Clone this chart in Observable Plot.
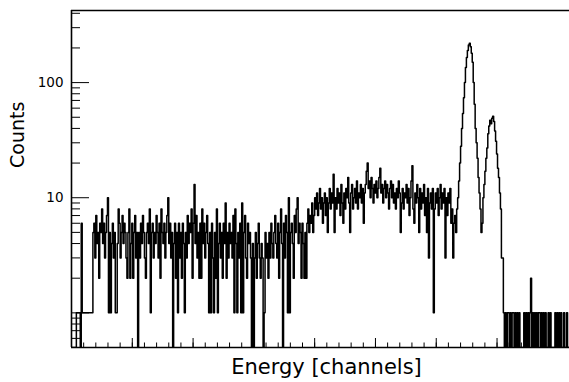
<!DOCTYPE html>
<html>
<head>
<meta charset="utf-8">
<script src="https://cdn.jsdelivr.net/npm/d3@7"></script>
<script src="https://cdn.jsdelivr.net/npm/@observablehq/plot@0.6"></script>
<style>
  html, body { margin: 0; padding: 0; background: #fff; }
  #chart svg { display: block; }
</style>
</head>
<body>
<div id="chart"></div>
<script>
// Histogram counts per bin (512 bins over 4096 channels)
const counts = [
  // start
  0,0,0,0,0,1,1,1,1,0,6,1,1,1,1,1,1,1,1,1,1,1,
  // flat low region
  5,6,3,7,4,5,2,6,5,8, 4,6,3,5,7,10,1,5,1,4, 6,3,5,1,1,4,8,6,3,5, 7,4,6,5,3,2,5,8,2,4, 6,2,5,7,3,5, 0,
  5,3,6,4,7,5,3,2,5,6, 4,8,1,5,6,3,5,4,7,5, 3,6,2,8,5,4,6,3,5,7, 10,4,6,3,5, 0,
  4,6,2,5,1,6,3,5,2,6, 4,1,5,3,7,4,6,5,8,2, 6,13,4,7,3,5,2,6,2,8, 4,6,3,5,7,4,
  1,5,1,6,3,1,5,2,8,1, 4,6,3,5,2,6,4,9,2,5, 3,6,4,5,3,7,1,8,4,1, 5,3,6,1,9,1,5,7,3,2, 6,4,5,3,0,4,0,
  3,5,2,4,6,3,2,4,3,0, 1,5,3,4,2,5,3,6,4,3, 5,7,4,3,6,2,5,8,4,0, 6,3,7,5,1,10,1,5,6,4, 2,7,5,8,10,4,6,5,2,6, 4,2,5,
  // rise
  2,6,8,5,7,6,9,5,7,10,
  // plateau
  8,11,7,9,12,8,10,6,9,11, 7,10,5,9,12,8,11,9,16,5, 10,8,12,9,11,7,13,9,6,11, 8,12,10,15,9,5,11,13,8,10, 12,9,14,8,11,10,13,9,12,6,
  11,13,17,20,12,14,10,15,12,9, 13,11,14,10,12,15,18,11,13,9, 12,14,10,13,11,8,12,14,10,13, 9,11,8,12,10,14,11,5,9,12,
  8,11,10,13,9,12,7,10,14,19, 8,6,11,9,13,10,5,12,8,11, 9,13,7,10,5,12,3,9,11,8, 12,1,
  8,11,9,12,7,10,13,8,11,9, 12,3,10,7,11,9,12,6,8,3, 6,7,5,8,10,
  // first peak
  14,20,28,40,54,74,100,135,165,190,212,220,205,180,150,100,65,40,30,22,15,11,8,5,6,
  // second peak
  10,13,17,22,27,36,42,47,44,49,51,46,38,31,24,18,15,11,8,3,3,1,
  // tail
  0,1,0,1,1,0,1,0,1,1, 0,1,0,1,0,1,0,0,0,0, 1,0,1,0,1,0,1,2,0,1, 0,1,0,1,0,1,1,0,1,0,
  1,0,1,0,0,1,0,1,0,0, 0,0,1,0,1,0,1,0,1,0, 0,1,0,0,1,0,0
];

const xDomain = [0, 4096];
const yDomain = [0.5, 423];
const xMajor = [0, 500, 1000, 1500, 2000, 2500, 3000, 3500, 4000];
const xMinor = d3.range(0, 4097, 100);
const yMajor = [1, 10, 100];
const yLabels = [10, 100];
const yMinor = [0.5, 0.6, 0.7, 0.8, 0.9, 2, 3, 4, 5, 6, 7, 8, 9,
                20, 30, 40, 50, 60, 70, 80, 90, 200, 300, 400];
const xTitle = "Energy [channels]";
const yTitle = "Counts";

const binW = (xDomain[1] - xDomain[0]) / counts.length;
const pts = counts.map((c, i) => ({x: xDomain[0] + i * binW, c}));
pts.push({x: xDomain[1], c: counts[counts.length - 1]});

const blank = () => "";

const chart = Plot.plot({
  width: 569,
  height: 382,
  marginTop: 10,
  marginRight: 0,
  marginBottom: 35,
  marginLeft: 71,
  style: {fontFamily: "'DejaVu Sans', sans-serif", background: "#fff", color: "#000"},
  x: {domain: xDomain, axis: null},
  y: {type: "log", domain: yDomain, axis: null, clamp: true},
  marks: [
    Plot.line(pts, {x: "x", y: d => Math.max(d.c, yDomain[0]), curve: "step-after", stroke: "#000", strokeWidth: 1.5, clip: true}),
    Plot.axisY(yMinor, {tickSize: -9, tickFormat: blank, label: null, stroke: "#000"}),
    Plot.axisY(yMajor, {tickSize: -18, tickFormat: blank, label: null, stroke: "#000"}),
    Plot.axisY(yLabels, {tickSize: 0, tickPadding: 8, fontSize: 13.5, label: null, tickFormat: d => String(d)}),
    Plot.axisX(xMinor, {tickSize: -4.5, tickFormat: blank, label: null, stroke: "#000"}),
    Plot.axisX(xMajor, {tickSize: -9, tickFormat: blank, label: null, stroke: "#000"}),
    Plot.ruleX([xDomain[0]], {stroke: "#000", strokeWidth: 1.6}),
    Plot.ruleY(yDomain, {stroke: "#000", strokeWidth: 1.6}),
    Plot.text([yTitle], {frameAnchor: "left", dx: -54, dy: -11, rotate: -90, fontSize: 19, fill: "#000"}),
    Plot.text([xTitle], {frameAnchor: "bottom", dx: 6, dy: 26, fontSize: 21, fill: "#000"})
  ]
});
document.getElementById("chart").appendChild(chart);
</script>
</body>
</html>
